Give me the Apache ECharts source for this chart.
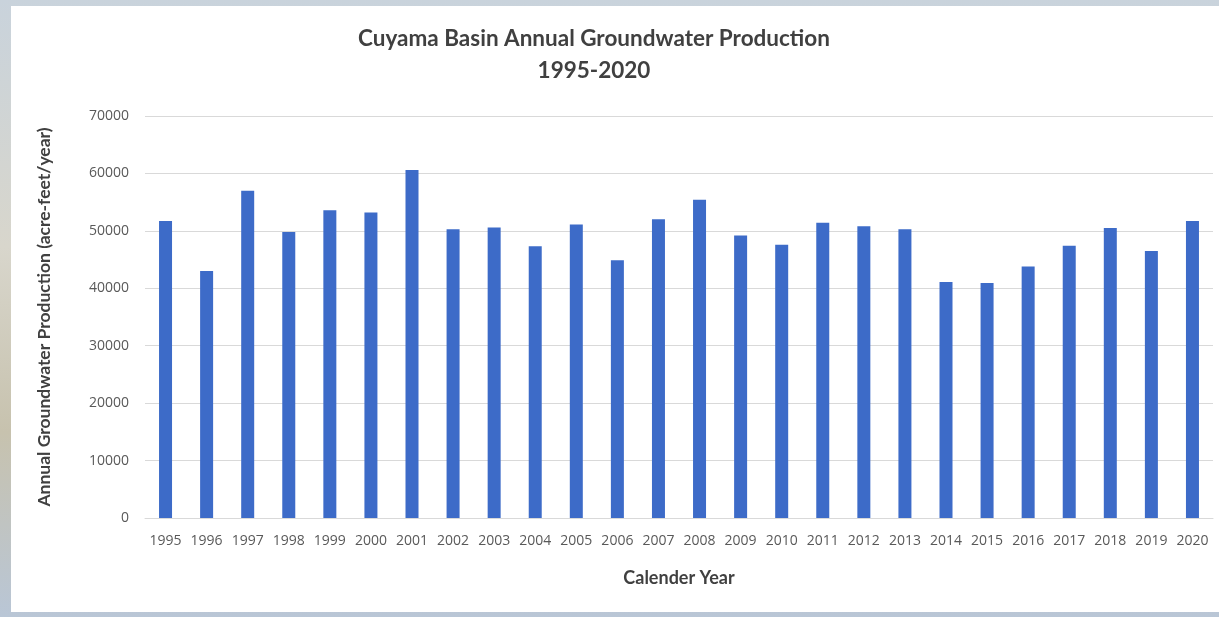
<!DOCTYPE html>
<html>
<head>
<meta charset="utf-8">
<script src="https://cdn.jsdelivr.net/npm/echarts@6/dist/echarts.min.js"></script>
<style>
  html, body { margin: 0; padding: 0; width: 1219px; height: 617px; overflow: hidden;
    background: linear-gradient(180deg, #c9d3dc 0%, #d8d6cc 40%, #c7c2ae 70%, #b9c6d6 100%); }
  #card { position: absolute; left: 11px; top: 6px; width: 1208px; height: 606px; background: #ffffff; }
  #chart { width: 100%; height: 100%; }
</style>
</head>
<body>
<div id="card"><div id="chart"></div></div>
<script>
const years = ['1995','1996','1997','1998','1999','2000','2001','2002','2003','2004','2005','2006','2007',
  '2008','2009','2010','2011','2012','2013','2014','2015','2016','2017','2018','2019','2020'];
const production = [51700, 43000, 57000, 49800, 53600, 53200, 60600, 50300, 50600, 47300, 51100, 44900, 52000,
  55400, 49200, 47600, 51400, 50800, 50300, 41100, 40900, 43800, 47400, 50500, 46500, 51700];
const yTicks = [0, 10000, 20000, 30000, 40000, 50000, 60000, 70000];

const chart = echarts.init(document.getElementById('chart'), null, { renderer: 'canvas' });
chart.setOption({
  backgroundColor: '#ffffff',
  animation: false,
  title: {
    text: 'Cuyama Basin Annual Groundwater Production\n1995-2020',
    left: 578,
    textAlign: 'center',
    top: 12,
    textStyle: { fontFamily: 'Lato', fontWeight: 'bold', fontSize: 22.5, color: '#404040', lineHeight: 32 }
  },
  grid: { left: 134, right: 6, top: 110, bottom: 94, containLabel: false },
  xAxis: {
    type: 'category',
    data: years,
    name: 'Calender Year',
    nameLocation: 'middle',
    nameGap: 51,
    nameTextStyle: { fontFamily: 'Lato', fontWeight: 'bold', fontSize: 18, color: '#404040' },
    axisLine: { show: true, lineStyle: { color: '#d9d9d9', width: 1 } },
    axisTick: { show: false },
    axisLabel: { fontFamily: 'Open Sans', fontSize: 14, color: '#595959', margin: 16, interval: 0 }
  },
  yAxis: {
    type: 'value',
    min: yTicks[0],
    max: yTicks[yTicks.length - 1],
    interval: 10000,
    name: 'Annual Groundwater Production (acre-feet/year)',
    nameLocation: 'middle',
    nameGap: 92,
    nameTextStyle: { fontFamily: 'Lato', fontWeight: 'bold', fontSize: 17.5, color: '#404040' },
    axisLine: { show: false },
    axisTick: { show: false },
    axisLabel: { fontFamily: 'Open Sans', fontSize: 14, color: '#595959', margin: 16,
      formatter: function (v) { return String(v); } },
    splitLine: { lineStyle: { color: '#d9d9d9', width: 1 } }
  },
  series: [{
    type: 'bar',
    data: production,
    barWidth: 13,
    itemStyle: { color: '#3d6bc8' }
  }]
});
</script>
</body>
</html>
